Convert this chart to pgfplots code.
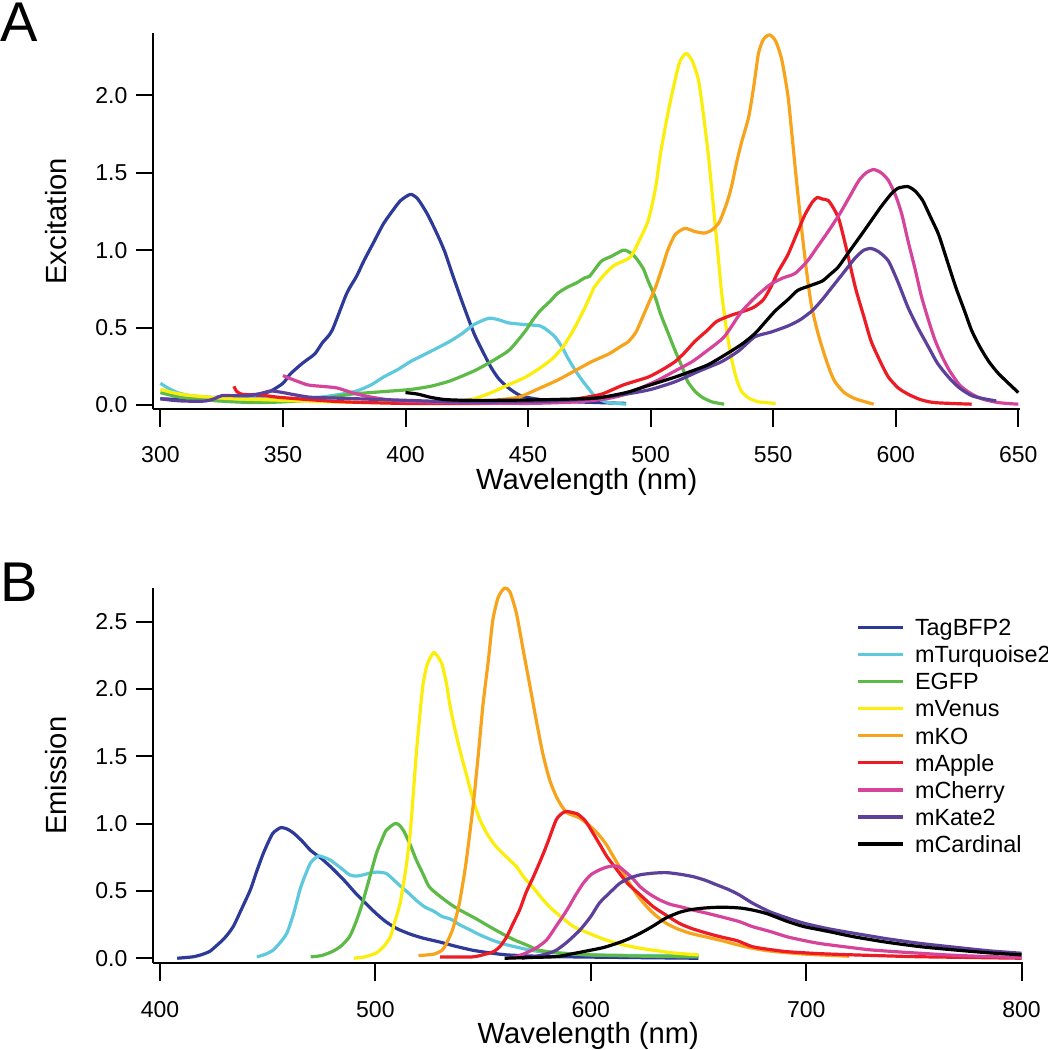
\documentclass[border=0pt]{standalone}
\usepackage{fontspec}
\setmainfont{Liberation Sans}
\usepackage{pgfplots}
\pgfplotsset{compat=1.18}
\definecolor{cBFP}{RGB}{45,58,152}
\definecolor{cTurq}{RGB}{94,200,220}
\definecolor{cEGFP}{RGB}{94,186,71}
\definecolor{cVenus}{RGB}{250,238,10}
\definecolor{cKO}{RGB}{248,163,28}
\definecolor{cApple}{RGB}{237,28,36}
\definecolor{cCherry}{RGB}{213,68,154}
\definecolor{cKate}{RGB}{92,64,154}
\definecolor{cCard}{RGB}{0,0,0}
\pgfplotsset{
  myaxis/.style={
    scale only axis,
    anchor=south west,
    axis lines*=left,
    axis line style={line width=1pt,-},
    tick align=outside,
    major tick length=8.7pt,
    tick style={line width=1pt,black},
    /pgf/number format/assume math mode=true,
    yticklabel style={/pgf/number format/.cd,fixed,fixed zerofill,precision=1},
    tick label style={font=\fontsize{11.5}{13}\selectfont},
    label style={font=\fontsize{14.6}{17}\selectfont},
    xticklabel shift=6.5pt,
    yticklabel shift=0.7pt,
    xlabel={Wavelength (nm)},
    xlabel style={at={(axis description cs:0.5,-0.212)},anchor=base},
    clip=false,
    every axis plot/.append style={line width=1.6pt,line join=round,no markers,smooth,tension=0.4},
  }
}
\begin{document}
\begin{tikzpicture}
\useasboundingbox (0,0) rectangle (524pt,525pt);
% ---------------- Panel A ----------------
\begin{axis}[myaxis, at={(76.65pt,320.35pt)}, width=433.35pt, height=188pt,
  xmin=297.1, xmax=650.7, ymin=-0.028, ymax=2.40,
  xtick={300,350,...,650}, ytick={0,0.5,1,1.5,2},
  ylabel={Excitation},
  ylabel style={at={(axis description cs:-0.1007,0.5)},anchor=base}]
\addplot[cBFP] coordinates {(300,0.04) (310,0.035) (320,0.045) (330,0.06) (340,0.07) (345,0.09) (350,0.14) (353,0.20) (358,0.27) (363,0.33) (366,0.40) (370,0.48) (376,0.72) (380,0.83) (383,0.93) (387,1.05) (391,1.17) (395,1.26) (398,1.32) (402,1.36) (405,1.33) (409,1.23) (413,1.10) (416,0.99) (419,0.85) (423,0.67) (428,0.46) (432,0.33) (435,0.24) (438,0.17) (442,0.11) (447,0.06) (455,0.035) (470,0.02) (490,0.01)};
\addplot[cTurq] coordinates {(300,0.14) (303,0.11) (307,0.08) (312,0.06) (320,0.05) (330,0.04) (340,0.04) (350,0.04) (360,0.045) (365,0.05) (372,0.065) (380,0.09) (386,0.13) (391,0.18) (397,0.23) (402,0.28) (407,0.32) (412,0.36) (418,0.41) (423,0.46) (428,0.52) (434,0.56) (438,0.55) (442,0.53) (448,0.52) (455,0.51) (458,0.48) (461,0.44) (464,0.37) (466,0.31) (469,0.23) (472,0.16) (475,0.10) (477,0.06) (480,0.03) (483,0.015) (490,0.005)};
\addplot[cEGFP] coordinates {(300,0.08) (305,0.06) (310,0.045) (320,0.03) (330,0.02) (340,0.015) (350,0.02) (360,0.03) (370,0.05) (378,0.07) (390,0.085) (402,0.10) (410,0.12) (415,0.14) (419,0.16) (428,0.22) (435,0.28) (442,0.35) (446,0.42) (449,0.48) (452,0.55) (455,0.61) (459,0.67) (462,0.72) (466,0.76) (470,0.79) (473,0.82) (475,0.83) (477,0.87) (480,0.93) (484,0.96) (489,1.00) (492,0.98) (494,0.95) (497,0.88) (499,0.80) (502,0.69) (504,0.59) (507,0.47) (510,0.35) (513,0.24) (515,0.155) (518,0.09) (521,0.05) (525,0.02) (530,0.005)};
\addplot[cVenus] coordinates {(300,0.10) (305,0.08) (310,0.065) (320,0.05) (330,0.04) (340,0.035) (350,0.03) (370,0.02) (390,0.015) (410,0.015) (420,0.02) (428,0.04) (435,0.08) (442,0.13) (449,0.18) (455,0.24) (460,0.30) (464,0.37) (468,0.47) (472,0.59) (475,0.69) (477,0.76) (481,0.84) (485,0.90) (489,0.93) (492,0.96) (495,1.05) (499,1.19) (502,1.40) (504,1.62) (507,1.88) (510,2.10) (512,2.22) (514.5,2.27) (517,2.22) (519.5,2.10) (521.5,1.88) (523.5,1.62) (525.5,1.30) (527.5,0.97) (529,0.72) (531,0.48) (533,0.30) (535,0.17) (537,0.09) (540,0.045) (544,0.02) (551,0.01)};
\addplot[cKO] coordinates {(420,0.02) (435,0.03) (446,0.05) (455,0.11) (462,0.16) (469,0.22) (476,0.28) (483,0.33) (488,0.38) (491,0.41) (494,0.47) (496,0.54) (499,0.65) (502,0.76) (505,0.90) (507,1.00) (510,1.10) (514,1.14) (518,1.12) (522,1.11) (525,1.13) (528,1.18) (531,1.30) (533,1.41) (535,1.56) (537,1.69) (540,1.86) (542,2.05) (544,2.27) (546,2.36) (548.5,2.39) (551,2.35) (553.5,2.23) (556,2.00) (557.5,1.77) (559.5,1.45) (561.5,1.15) (563.5,0.88) (565.5,0.65) (568,0.48) (570,0.37) (572.5,0.25) (575,0.155) (579,0.08) (583.5,0.04) (591,0.005)};
\addplot[cApple] coordinates {(330,0.12) (331,0.09) (333,0.07) (337,0.065) (343,0.06) (348,0.05) (360,0.035) (375,0.02) (400,0.01) (430,0.01) (460,0.02) (470,0.04) (480,0.07) (489,0.13) (499,0.18) (505,0.23) (510,0.28) (514,0.34) (518,0.41) (523,0.48) (527,0.54) (533,0.58) (537,0.60) (542,0.63) (546,0.68) (549,0.76) (552,0.86) (556,0.97) (560,1.12) (563,1.23) (566,1.31) (568,1.34) (570,1.33) (572.5,1.32) (575,1.26) (577,1.19) (580,1.00) (583.5,0.76) (587,0.57) (590,0.41) (594,0.27) (597,0.18) (601,0.11) (605,0.07) (610,0.035) (616,0.015) (631,0.005)};
\addplot[cCherry] coordinates {(350,0.19) (353,0.17) (360,0.13) (366,0.12) (372,0.11) (378,0.08) (383,0.06) (390,0.04) (398,0.026) (420,0.015) (450,0.01) (470,0.02) (482,0.04) (490,0.07) (496,0.11) (503,0.16) (510,0.22) (517,0.28) (523,0.35) (530,0.44) (537,0.60) (543,0.70) (549,0.78) (554,0.82) (559,0.85) (564,0.93) (568,1.02) (572,1.11) (577,1.23) (581,1.34) (585,1.45) (588,1.50) (591,1.52) (594,1.50) (597,1.45) (600,1.35) (602.5,1.23) (605,1.06) (608,0.87) (610.5,0.70) (613.5,0.54) (616,0.42) (619,0.31) (622,0.22) (626,0.13) (630,0.08) (635,0.04) (642,0.015) (650,0.005)};
\addplot[cKate] coordinates {(300,0.04) (305,0.03) (310,0.025) (318,0.025) (322,0.04) (325,0.06) (330,0.06) (336,0.06) (340,0.07) (345,0.09) (350,0.08) (355,0.065) (361,0.05) (370,0.045) (380,0.04) (400,0.03) (420,0.02) (440,0.02) (460,0.025) (475,0.04) (490,0.07) (500,0.10) (510,0.15) (520,0.22) (529,0.28) (536,0.35) (542.5,0.44) (549,0.47) (556,0.51) (561,0.55) (566,0.61) (570,0.68) (574,0.76) (579,0.86) (583.5,0.95) (587,1.00) (590,1.01) (593,0.99) (597,0.93) (601,0.79) (605,0.63) (609,0.50) (613.5,0.37) (617,0.27) (621.5,0.18) (626,0.11) (631,0.06) (636,0.04) (641,0.026)};
\addplot[cCard] coordinates {(400,0.08) (405,0.07) (410,0.05) (416,0.035) (425,0.03) (440,0.03) (460,0.035) (478,0.045) (490,0.08) (496,0.11) (503,0.145) (510,0.18) (517,0.22) (523.5,0.26) (530,0.32) (537,0.39) (542.5,0.46) (547,0.54) (551,0.61) (556,0.68) (560,0.74) (565,0.77) (570,0.80) (573,0.84) (576.5,0.89) (581,0.99) (586,1.10) (590,1.19) (594,1.28) (598,1.36) (601,1.40) (605,1.41) (608,1.38) (611,1.32) (614,1.22) (617.5,1.10) (621,0.93) (624.5,0.76) (628,0.61) (631,0.48) (634.5,0.37) (638,0.28) (641.5,0.21) (645,0.155) (648,0.11) (650,0.08)};
\end{axis}
% ---------------- Panel B ----------------
\begin{axis}[myaxis, at={(76.65pt,43.25pt)}, width=435pt, height=187.75pt,
  xmin=396.9, xmax=800.8, ymin=-0.039, ymax=2.75,
  xtick={400,500,...,800}, ytick={0,0.5,1,1.5,2,2.5},
  ylabel={Emission},
  ylabel style={at={(axis description cs:-0.1003,0.5)},anchor=base},
  legend cell align=left,
  legend style={at={(axis description cs:0.8085,0.9177)}, anchor=north west, draw=none, fill=none,
    inner sep=0pt, outer sep=0pt, row sep=5.15pt, column sep=5pt,
    font=\fontsize{11.7}{13}\selectfont,
    nodes={inner sep=0pt, text height=8.4pt, text depth=0pt}},
  legend image code/.code={\draw[#1,line width=1.65pt] (0pt,0pt) -- (22.5pt,0pt);}]
\addplot[cBFP] coordinates {(408,0.0) (415,0.01) (419,0.025) (423,0.05) (426,0.09) (430,0.15) (434,0.235) (438,0.37) (442,0.51) (445,0.65) (448,0.78) (450.5,0.87) (452.5,0.93) (456,0.97) (459,0.96) (462,0.93) (466,0.87) (470,0.80) (475,0.74) (480.5,0.66) (486,0.57) (491,0.48) (496,0.40) (500.5,0.33) (505,0.27) (510,0.22) (516,0.18) (522,0.15) (530,0.12) (537,0.09) (545,0.06) (553,0.04) (561,0.025) (575,0.015) (592,0.01) (620,0.005) (650,0.0)};
\addlegendentry{TagBFP2}
\addplot[cTurq] coordinates {(445,0.01) (449,0.03) (452.5,0.06) (456,0.12) (459,0.19) (462,0.33) (465,0.51) (467.5,0.62) (470,0.71) (473.5,0.76) (476,0.75) (479,0.73) (484,0.67) (488,0.62) (491,0.61) (494.5,0.62) (498,0.635) (501,0.64) (505,0.63) (508,0.59) (511,0.545) (515,0.49) (519,0.43) (523,0.38) (527,0.35) (531,0.31) (535,0.29) (539,0.25) (544,0.21) (549,0.17) (555,0.13) (561,0.10) (569,0.07) (576,0.05) (588,0.035) (600,0.025) (625,0.02) (650,0.02)};
\addlegendentry{mTurquoise2}
\addplot[cEGFP] coordinates {(470,0.01) (475,0.02) (480,0.05) (484,0.09) (488,0.16) (491,0.27) (494,0.41) (497,0.58) (500.5,0.78) (503,0.88) (505,0.95) (509,1.00) (511,0.99) (513,0.95) (516,0.85) (519,0.73) (522,0.63) (525,0.53) (530,0.46) (535,0.40) (539,0.36) (546,0.30) (553,0.235) (558,0.19) (564,0.14) (570,0.10) (576,0.06) (585,0.04) (600,0.025) (625,0.015) (650,0.01)};
\addlegendentry{EGFP}
\addplot[cVenus] coordinates {(490,0.0) (495,0.01) (500.5,0.04) (504,0.09) (507,0.16) (509,0.27) (511.5,0.41) (514,0.65) (516,0.90) (517.5,1.20) (519,1.52) (520.5,1.78) (522,2.02) (524,2.18) (527,2.27) (529,2.24) (531,2.18) (533,2.04) (534.5,1.89) (536,1.77) (539,1.56) (542.5,1.35) (545.5,1.17) (548.5,1.03) (552,0.92) (556,0.83) (561,0.75) (565.5,0.68) (569,0.60) (573,0.53) (577,0.45) (581,0.38) (586,0.31) (592,0.235) (600,0.18) (607,0.136) (615,0.10) (623,0.074) (638,0.04) (650,0.025)};
\addlegendentry{mVenus}
\addplot[cKO] coordinates {(520,0.02) (527,0.03) (531,0.06) (533,0.11) (536,0.22) (539,0.41) (542,0.70) (545.5,1.15) (548,1.55) (550,1.89) (552.5,2.22) (554.5,2.51) (557,2.68) (560,2.75) (562.5,2.72) (565.5,2.56) (568.5,2.30) (572,2.00) (575,1.74) (578,1.50) (581,1.32) (584,1.20) (586.5,1.13) (589,1.08) (592,1.06) (595,1.04) (599,0.99) (603,0.93) (607,0.85) (610.5,0.755) (614,0.66) (618,0.557) (622,0.46) (626,0.383) (630,0.32) (635,0.26) (640,0.22) (646,0.186) (653,0.16) (661,0.13) (668,0.10) (675,0.074) (685,0.05) (700,0.03) (720,0.015)};
\addlegendentry{mKO}
\addplot[cApple] coordinates {(530,0.01) (545,0.01) (551,0.03) (555,0.05) (558,0.09) (561,0.16) (564,0.26) (567,0.36) (570,0.49) (573.5,0.61) (577,0.74) (580,0.86) (584,1.03) (587,1.08) (589,1.09) (592,1.08) (594,1.07) (597.5,1.02) (601,0.93) (604,0.85) (607.5,0.755) (612,0.66) (617,0.557) (623,0.47) (629,0.383) (635,0.32) (641,0.26) (647,0.22) (654,0.186) (660,0.16) (668,0.13) (675,0.086) (683,0.065) (691,0.049) (705,0.035) (722,0.025) (750,0.012) (775,0.006) (800,0.0)};
\addlegendentry{mApple}
\addplot[cCherry] coordinates {(561,0.0) (566,0.015) (570,0.04) (575,0.08) (579.5,0.136) (584,0.24) (589,0.36) (593,0.47) (596.5,0.557) (600,0.62) (604,0.656) (607,0.675) (610.5,0.686) (613,0.68) (615,0.656) (619,0.60) (623,0.53) (627,0.48) (632,0.433) (637,0.40) (641.5,0.383) (647,0.36) (654,0.334) (660,0.31) (669,0.272) (675,0.235) (683,0.20) (691,0.16) (698,0.135) (706,0.11) (718,0.085) (730,0.062) (745,0.045) (753,0.037) (765,0.025) (776,0.017) (790,0.01) (800,0.005)};
\addlegendentry{mCherry}
\addplot[cKate] coordinates {(568,0.0) (575,0.015) (580,0.035) (584,0.06) (589,0.12) (595,0.21) (600,0.31) (604,0.41) (609,0.49) (613.5,0.557) (618,0.595) (623,0.62) (629,0.632) (635,0.636) (641,0.625) (647.5,0.606) (653,0.58) (658.5,0.545) (664,0.51) (669,0.47) (675,0.41) (683,0.346) (691,0.30) (699,0.26) (710,0.22) (722,0.186) (737,0.146) (753,0.11) (770,0.08) (785,0.055) (800,0.037)};
\addlegendentry{mKate2}
\addplot[cCard] coordinates {(560,0.0) (570,0.005) (584,0.012) (592,0.035) (600,0.06) (606,0.08) (612,0.11) (617,0.14) (623,0.186) (629,0.24) (635,0.30) (641,0.34) (646,0.36) (652,0.372) (658,0.378) (664,0.378) (670,0.372) (676,0.355) (682,0.33) (691,0.275) (699,0.235) (710,0.20) (722,0.16) (737,0.12) (753,0.086) (770,0.06) (785,0.04) (800,0.025)};
\addlegendentry{mCardinal}
\end{axis}
\node[anchor=base west, inner sep=0pt, font=\fontsize{28}{30}\selectfont] at (0pt,504.15pt) {A};
\node[anchor=base west, inner sep=0pt, font=\fontsize{28}{30}\selectfont] at (0pt,224.15pt) {B};
\end{tikzpicture}
\end{document}
